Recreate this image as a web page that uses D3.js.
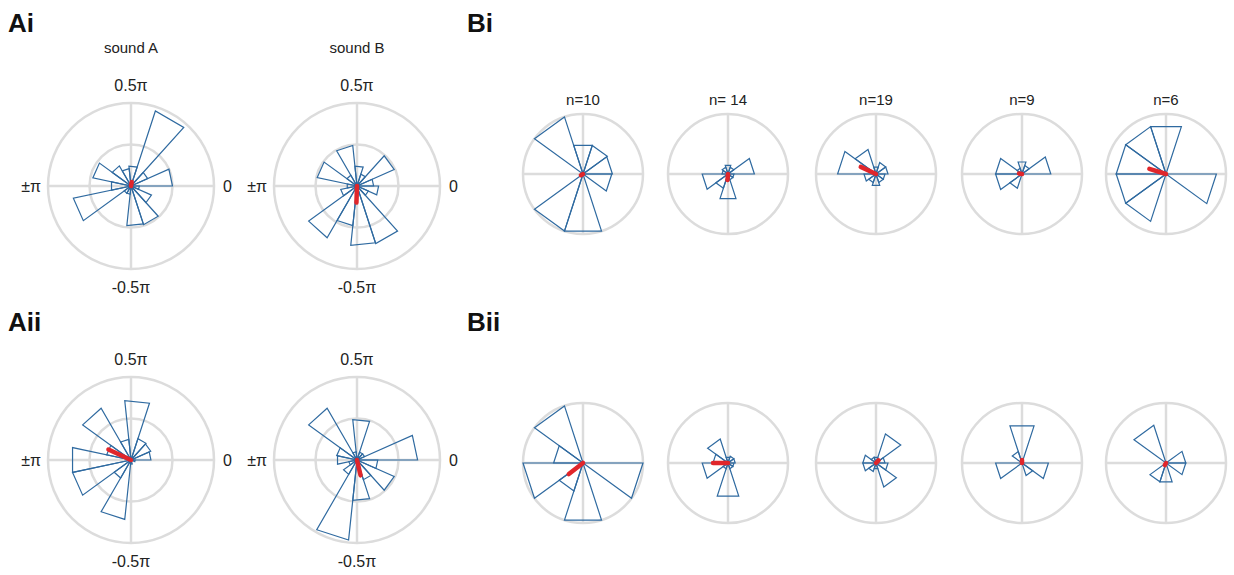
<!DOCTYPE html>
<html>
<head>
<meta charset="utf-8">
<script src="https://cdn.jsdelivr.net/npm/d3@7"></script>
<style>
	body { margin: 0; background: #fff; }
	text { font-family: Arial, "Liberation Sans", sans-serif; fill: #222; }
</style>
</head>
<body>
<div id="chart"></div>
<script>
var WIDTH = 1234;
var HEIGHT = 575;

// bin heights as fraction of the outer ring, bins counter-clockwise from 0 rad
var aiSoundA = [0.50, 0.22, 0.95, 0.24, 0.21, 0.28, 0.47, 0.24, 0.71, 0.10, 0.10, 0.48, 0.49, 0.27, 0.10];
var aiSoundB = [0.20, 0.49, 0.15, 0.24, 0.49, 0.15, 0.49, 0.12, 0.20, 0.72, 0.48, 0.72, 0.73, 0.15, 0.26];
var aiiSoundA = [0.24, 0.26, 0.27, 0.72, 0.25, 0.72, 0.30, 0.72, 0.72, 0.25, 0.72, 0.05, 0, 0, 0.05];
var aiiSoundB = [0.73, 0.10, 0.10, 0.49, 0.10, 0.72, 0.25, 0.24, 0.10, 0.20, 0.97, 0.49, 0.25, 0.49, 0.25];

var biBins = [
	[0.49, 0.50, 0.50, 1.00, 0, 0, 1.00, 1.00, 0, 0.48],
	[0.44, 0.12, 0.15, 0.12, 0.10, 0.43, 0.25, 0.43, 0.10, 0.10],
	[0.20, 0.20, 0.12, 0.43, 0.64, 0.20, 0.15, 0.20, 0.15, 0.15],
	[0.48, 0.15, 0.21, 0.10, 0.44, 0.44, 0.25, 0, 0, 0],
	[0, 0, 0.83, 0.83, 0.83, 0.83, 0.83, 0, 0, 0.84]
];
var biiBins = [
	[0, 0, 0, 1.00, 0.49, 1.00, 0.49, 1.00, 0, 1.00],
	[0.12, 0.12, 0.10, 0.42, 0.25, 0.43, 0.10, 0.58, 0.10, 0.10],
	[0.15, 0.51, 0.10, 0.10, 0.22, 0.22, 0.15, 0.10, 0.42, 0.20],
	[0, 0, 0.65, 0.20, 0, 0.44, 0, 0, 0.22, 0.44],
	[0.33, 0, 0, 0.66, 0, 0, 0.33, 0.33, 0, 0.33]
];

// mean vectors: angle in degrees, length as fraction of the outer ring
var aiMeanAngle = [80, -92];
var aiMeanLength = [0.05, 0.20];
var aiiMeanAngle = [155, -77];
var aiiMeanLength = [0.30, 0.19];
var biMeanAngle = [-150, -95, 155, 170, 163];
var biMeanLength = [0.04, 0.10, 0.28, 0.05, 0.29];
var biiMeanAngle = [-142, 180, 45, 90, -120];
var biiMeanLength = [0.30, 0.25, 0.06, 0.05, 0.04];

var soundLabels = ["sound A", "sound B"];
var cellCounts = ["n=10", "n= 14", "n=19", "n=9", "n=6"];
var angleLabels = ["0.5\u03c0", "-0.5\u03c0", "\u00b1\u03c0", "0"];

var GRID = "#dcdcdc";
var BAR = "#2f6aa0";
var MEAN = "#e0262b";

var svg = d3.select("#chart").append("svg")
	.attr("width", WIDTH)
	.attr("height", HEIGHT);

function polar(cx, cy, r, deg) {
	var a = deg * Math.PI / 180;
	return [cx + r * Math.cos(a), cy - r * Math.sin(a)];
}

function drawRose(cx, cy, R, values, meanAngle, meanLength, innerRing) {
	var g = svg.append("g");
	var rScale = d3.scaleLinear().domain([0, 1]).range([0, R]);
	var binWidth = 360 / values.length;

	g.append("circle")
		.attr("cx", cx).attr("cy", cy).attr("r", R)
		.attr("fill", "none").attr("stroke", GRID).attr("stroke-width", 2.5);
	if (innerRing) {
		g.append("circle")
			.attr("cx", cx).attr("cy", cy).attr("r", rScale(0.5))
			.attr("fill", "none").attr("stroke", GRID).attr("stroke-width", 2.5);
	}
	g.append("line")
		.attr("x1", cx - R).attr("x2", cx + R).attr("y1", cy).attr("y2", cy)
		.attr("stroke", GRID).attr("stroke-width", 2.5);
	g.append("line")
		.attr("x1", cx).attr("x2", cx).attr("y1", cy - R).attr("y2", cy + R)
		.attr("stroke", GRID).attr("stroke-width", 2.5);

	var bins = values.map(function(v, i) {
		return { value: v, center: binWidth / 2 + i * binWidth };
	}).filter(function(d) { return d.value > 0; });

	var line = d3.line();
	g.selectAll(".bar")
		.data(bins)
		.join("path")
		.attr("class", "bar")
		.attr("d", function(d) {
			var r = rScale(d.value);
			return line([
				[cx, cy],
				polar(cx, cy, r, d.center - binWidth / 2),
				polar(cx, cy, r, d.center + binWidth / 2)
			]) + "Z";
		})
		.attr("fill", "none")
		.attr("stroke", BAR)
		.attr("stroke-width", 1.2)
		.attr("stroke-linejoin", "miter");

	var tip = polar(cx, cy, rScale(meanLength), meanAngle);
	g.append("line")
		.attr("x1", cx).attr("y1", cy)
		.attr("x2", tip[0]).attr("y2", tip[1])
		.attr("stroke", MEAN)
		.attr("stroke-width", 4.5)
		.attr("stroke-linecap", "round");
}

function angleTicks(cx, cy, R) {
	var pos = [
		[cx, cy - R - 12, "middle"],
		[cx, cy + R + 24, "middle"],
		[cx - R - 7, cy + 6, "end"],
		[cx + R + 9, cy + 6, "start"]
	];
	angleLabels.forEach(function(t, i) {
		svg.append("text")
			.attr("x", pos[i][0]).attr("y", pos[i][1])
			.attr("text-anchor", pos[i][2])
			.style("font-size", "16px")
			.text(t);
	});
}

function panelLabel(x, y, t) {
	svg.append("text")
		.attr("x", x).attr("y", y)
		.style("font-size", "26px")
		.style("font-weight", "bold")
		.style("fill", "#111")
		.text(t);
}

// A panels
var aX = [131, 357];
var aR = 83;
var aiData = [aiSoundA, aiSoundB];
var aiiData = [aiiSoundA, aiiSoundB];

aX.forEach(function(cx, i) {
	svg.append("text")
		.attr("x", cx).attr("y", 53)
		.attr("text-anchor", "middle")
		.style("font-size", "15px")
		.text(soundLabels[i]);

	drawRose(cx, 186, aR, aiData[i], aiMeanAngle[i], aiMeanLength[i], true);
	angleTicks(cx, 186, aR);

	drawRose(cx, 460, aR, aiiData[i], aiiMeanAngle[i], aiiMeanLength[i], true);
	angleTicks(cx, 460, aR);
});

// B panels
var bX = [583, 728, 876, 1022, 1166];
var bR = 60;

bX.forEach(function(cx, i) {
	svg.append("text")
		.attr("x", cx).attr("y", 105)
		.attr("text-anchor", "middle")
		.style("font-size", "15px")
		.text(cellCounts[i]);

	drawRose(cx, 174, bR, biBins[i], biMeanAngle[i], biMeanLength[i], false);
	drawRose(cx, 463, bR, biiBins[i], biiMeanAngle[i], biiMeanLength[i], false);
});

panelLabel(8, 32, "Ai");
panelLabel(467, 32, "Bi");
panelLabel(8, 331, "Aii");
panelLabel(467, 331, "Bii");
</script>
</body>
</html>
